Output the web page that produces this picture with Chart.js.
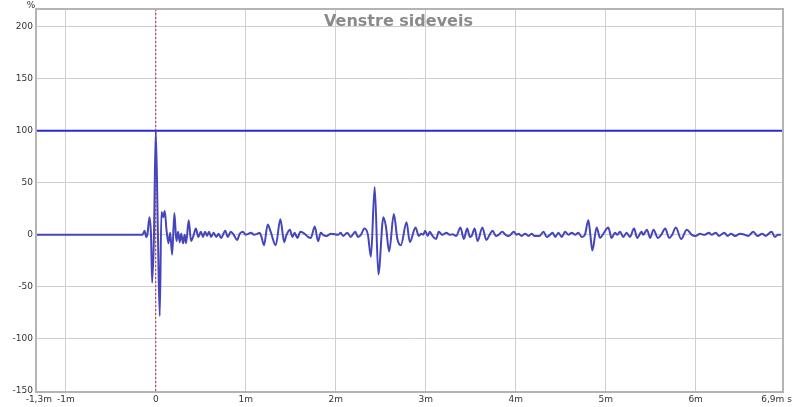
<!DOCTYPE html>
<html><head><meta charset="utf-8">
<script src="https://cdn.jsdelivr.net/npm/chart.js@4/dist/chart.umd.min.js"></script>
<style>html,body{margin:0;padding:0;background:#fff}#wrap{width:800px;height:407px}</style>
</head><body><div id="wrap"><canvas id="c" width="800" height="407"></canvas></div>
<script>
const chartTitle = "Venstre sideveis";
const yUnit = "%";
const xMin = -1.32, xMax = 6.96;
const yMin = -150, yMax = 216;
const xTickValues = [-1.3, -1, 0, 1, 2, 3, 4, 5, 6, 6.9];
const xTickLabels = ["-1,3m", "-1m", "0", "1m", "2m", "3m", "4m", "5m", "6m", "6,9m s"];
const yTickValues = [-150, -100, -50, 0, 50, 100, 150, 200];
const referenceLevel = 100;
const markerTime = 0;

// impulse response (time in ms, amplitude in %)
const times = [-1.32,-0.147,-0.125,-0.106,-0.092,-0.070,-0.053,-0.040,-0.020,0,0.024,0.044,0.063,0.082,0.100,0.119,0.141,0.160,0.182,0.207,0.229,0.248,0.266,0.282,0.304,0.321,0.337,0.366,0.392,0.418,0.446,0.473,0.501,0.525,0.548,0.570,0.592,0.614,0.643,0.673,0.698,0.725,0.773,0.800,0.834,0.867,0.904,0.933,0.967,1.000,1.028,1.058,1.094,1.127,1.155,1.175,1.203,1.244,1.277,1.333,1.385,1.427,1.449,1.490,1.519,1.543,1.574,1.607,1.656,1.693,1.723,1.767,1.804,1.834,1.859,1.896,1.948,2.025,2.055,2.081,2.129,2.166,2.217,2.247,2.280,2.319,2.358,2.391,2.433,2.474,2.530,2.558,2.594,2.646,2.685,2.724,2.787,2.824,2.887,2.923,2.951,2.973,2.993,3.023,3.045,3.075,3.115,3.145,3.186,3.230,3.267,3.300,3.339,3.386,3.424,3.461,3.491,3.511,3.544,3.577,3.630,3.674,3.710,3.744,3.780,3.810,3.851,3.888,3.924,3.980,4.010,4.032,4.065,4.106,4.143,4.179,4.209,4.265,4.309,4.346,4.381,4.412,4.439,4.475,4.512,4.550,4.586,4.623,4.661,4.697,4.734,4.769,4.808,4.830,4.852,4.900,4.938,4.974,5.030,5.066,5.104,5.130,5.159,5.196,5.233,5.270,5.315,5.351,5.399,5.418,5.459,5.495,5.532,5.581,5.617,5.662,5.706,5.739,5.780,5.839,5.902,5.958,5.998,6.050,6.094,6.149,6.179,6.224,6.260,6.319,6.357,6.393,6.438,6.493,6.549,6.585,6.641,6.689,6.740,6.778,6.845,6.881,6.914,6.948];
const values = [0,0,4,-2,1,17,0,-46,0,100,0,-78,22,17,23,5,-8,2,-19,21,-6,3,-7,1,-8,0,-8,14,-6,-1,6,-2,3,-2,3,-1,3,-2,2,-2,1,-3,4,-2,3,0,-5,1,3,0,1,2,0,1,2,-2,-10,10,3,-10,15,-7,-1,5,-2,2,-3,3,1,-2,-3,8,-6,2,0,-1,1,0,2,-1,2,-2,3,-2,0,6,0,-21,46,-38,17,8,-16,20,-4,-10,12,-7,7,-1,1,0,4,-1,3,-1,-4,3,0,2,0,0.5,-1,7,-4,6,-2,-1,6,-6,7,-5,0,4,-1,0,3,0,-1,3,0,1,-1,1,-1,1,-1,-1,3,-2,0,2,-2,2,-2,3,0,2,0,2,-2,0,14,0,-15,7,-3,1,7,-3,2,0,3,-2,2,-2,6,-3,3,0,5,-3,5,-3,0,6,-3,0,7,-4,5,0,-1,1,0,2,0,2,-1,2,-1,1,-1,1,0,-1,3,-1,1,-1,3,-2,0,0];

const FONT = "'DejaVu Sans', sans-serif";

const frameAndText = {
  id: 'frameAndText',
  beforeDatasetsDraw(chart) {
    const {ctx, chartArea: a} = chart;
    ctx.save();
    ctx.font = "bold 16px " + FONT;
    ctx.fillStyle = "#8a8a8a";
    ctx.textAlign = "center";
    ctx.textBaseline = "alphabetic";
    ctx.fillText(chartTitle, (a.left + a.right) / 2 - 11, a.top + 16);
    ctx.restore();
  },
  afterDraw(chart) {
    const {ctx, chartArea: a} = chart;
    ctx.save();
    ctx.strokeStyle = "#b4b4b4";
    ctx.lineWidth = 2;
    ctx.strokeRect(a.left - 1, a.top - 1, a.right - a.left + 2, a.bottom - a.top + 2);
    ctx.font = "9px " + FONT;
    ctx.fillStyle = "#333";
    ctx.textAlign = "center";
    ctx.textBaseline = "alphabetic";
    ctx.fillText(yUnit, a.left - 6, a.top - 2);
    ctx.restore();
  }
};

const waveData = times.map((t, i) => ({x: t, y: values[i]}));
const refData = [{x: xMin, y: referenceLevel}, {x: xMax, y: referenceLevel}];
const markData = [{x: markerTime, y: yMin}, {x: markerTime, y: yMax}];

new Chart(document.getElementById('c'), {
  type: 'line',
  data: {
    datasets: [
      {data: markData, borderColor: '#c02838', borderWidth: 1, borderDash: [2, 2], pointRadius: 0, order: 3},
      {data: refData, borderColor: '#2a2ad0', borderWidth: 2, pointRadius: 0, order: 2},
      {data: waveData, borderColor: '#4646bc', borderWidth: 2, pointRadius: 0, cubicInterpolationMode: 'monotone', order: 1}
    ]
  },
  options: {
    responsive: false,
    animation: false,
    events: [],
    layout: {padding: {left: 0, right: 18, top: 10, bottom: 0}},
    plugins: {legend: {display: false}, tooltip: {enabled: false}, title: {display: false}},
    scales: {
      x: {
        type: 'linear', min: xMin, max: xMax,
        afterBuildTicks(s) { s.ticks = xTickValues.map(v => ({value: v})); },
        afterFit(s) { s.height = 16; },
        border: {display: false},
        grid: {
          drawTicks: false,
          color: c => (c.tick && (c.tick.value === -1.3 || c.tick.value === 6.9)) ? 'rgba(0,0,0,0)' : '#cfcfcf',
          lineWidth: 1
        },
        ticks: {
          autoSkip: false, maxRotation: 0, padding: 3,
          color: '#333', font: {family: FONT, size: 9},
          callback(v) { const i = xTickValues.indexOf(v); return i >= 0 ? xTickLabels[i] : ''; }
        }
      },
      y: {
        type: 'linear', min: yMin, max: yMax,
        afterBuildTicks(s) { s.ticks = yTickValues.map(v => ({value: v})); },
        afterFit(s) { s.width = 37; },
        border: {display: false},
        grid: {drawTicks: false, color: '#cfcfcf', lineWidth: 1},
        ticks: {padding: 4, color: '#333', font: {family: FONT, size: 9}}
      }
    }
  },
  plugins: [frameAndText]
});
</script>
</body></html>
